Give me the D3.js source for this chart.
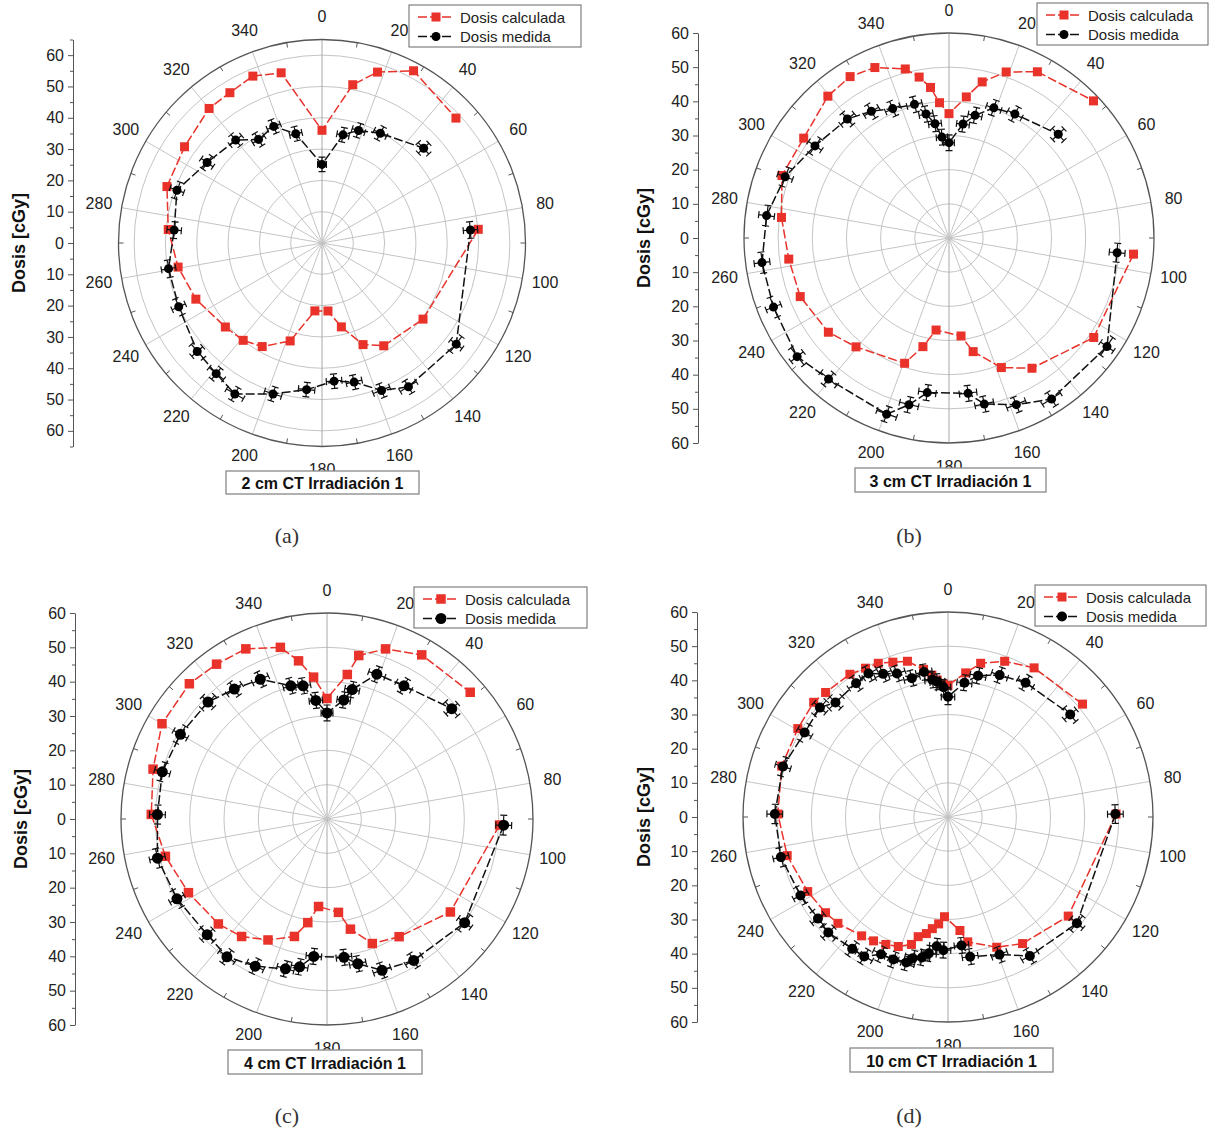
<!DOCTYPE html>
<html>
<head>
<meta charset="utf-8">
<script src="https://cdn.jsdelivr.net/npm/d3@7"></script>
<style>
  body { margin: 0; background: #fff; }
  svg text { font-family: "Liberation Sans", Arial, sans-serif; }
</style>
</head>
<body>
<svg id="chart" width="1214" height="1133"></svg>
<script>
// Angles in degrees (0 at top, clockwise), dose in cGy
const anglesA = [0, 11, 18, 28, 47, 85, 127, 149, 158, 167, 175, 186, 198, 210, 219, 229, 246, 260.5, 275, 290, 305, 320, 328.5, 337.5, 346.5];
const calcA = [36, 51.5, 57.4, 62.3, 58.5, 50.1, 40.4, 38.3, 35, 27.5, 21.8, 21.8, 32.9, 38.2, 40, 40.9, 44.1, 46.6, 49.3, 52.7, 53.6, 56.1, 56.3, 57.7, 55.9];
const measA = [25.1, 35.2, 37.8, 39.7, 44.4, 47.6, 53.7, 53.6, 50.8, 45.6, 44.3, 47.1, 50.7, 55.7, 53.7, 52.8, 50.1, 49.7, 47.4, 49.3, 44.8, 42.9, 38.8, 40.3, 35.9];

const anglesB = [0, 7, 12, 19, 28, 46.5, 95, 124.5, 147.5, 158, 168, 173, 188, 193.5, 199.5, 220.5, 232, 248.5, 262.5, 277, 290.5, 304.5, 319.5, 328.5, 336.5, 345.5, 349.5, 353, 356];
const calcB = [36.4, 41.6, 46.7, 51.4, 55.1, 58.3, 54.2, 51.4, 45.2, 40.9, 34, 28.9, 27.2, 32.7, 38.9, 41.9, 44.8, 46.8, 47.3, 49.4, 52.2, 51.6, 54.6, 55.4, 54.4, 51.1, 47.9, 44.4, 39.7];
const measB = [27.9, 33.6, 36.7, 40.3, 41.1, 44.1, 49.4, 56.1, 55.9, 52.6, 49.7, 45.8, 45.7, 50.2, 54.7, 54.3, 56.4, 55.2, 55.2, 53.8, 51.2, 47.6, 45.8, 43.5, 41.3, 40.4, 36.9, 33.7, 29.6];

const anglesC = [0, 8, 11, 19, 30, 48.5, 92, 127, 148.5, 160, 168, 173, 185.5, 190.5, 195.5, 206, 216, 226, 242, 257, 271.5, 286, 300, 314.5, 324.5, 334.5, 344.8, 349.8, 354.6];
const calcC = [35.1, 42.5, 48.5, 52.4, 55.2, 55.7, 50.3, 45, 40.2, 38.6, 32.8, 27.4, 25.6, 30.7, 35.5, 39.2, 42.3, 44, 45.7, 48.3, 51.2, 52.7, 55.5, 56.2, 55.4, 54.9, 51.8, 46.8, 41.5];
const measC = [30.9, 35, 38.4, 44.6, 44.8, 48.5, 51.5, 50.2, 48.3, 46.9, 43.1, 40.6, 40.2, 43.8, 45.3, 47.7, 49.6, 48.5, 49.5, 50.7, 49.4, 49.9, 49.3, 48.6, 46.5, 45.1, 40.2, 39.4, 34.7];

const anglesD = [0, 7, 12, 20, 30, 50, 89, 129.5, 149.5, 159.5, 171, 174, 182, 185, 188, 190.5, 194, 196, 201, 206, 211, 216, 226, 232, 242, 256.5, 271, 287, 300.5, 310.5, 315.5, 325.5, 331, 335.6, 340.4, 345.4, 350.6, 353.5, 355.5, 358];
const calcD = [38.5, 42.5, 46, 48.5, 50.4, 51.4, 49.2, 45.6, 43, 40.7, 37, 33.4, 29.2, 31.4, 33, 34.7, 36.1, 38.8, 40.6, 41.5, 42.3, 43, 44.8, 45.5, 46.5, 48.4, 49.8, 50.9, 51, 51.7, 51.1, 50.7, 49.8, 49.4, 48.1, 47.1, 43.8, 41.8, 40.2, 39];
const measD = [35.2, 39.6, 42.3, 44.2, 45.4, 46.7, 49, 48.9, 47.2, 43, 41.4, 37.8, 39, 38, 40.3, 41.8, 42.6, 44.3, 44.7, 44.7, 47.6, 47.7, 48.7, 48.3, 48.9, 50.3, 50.7, 50.5, 48.7, 49.3, 47, 47.5, 48, 46, 44.6, 42, 43, 40.4, 39.7, 38];

// measurement uncertainty (dose in cGy, angle in degrees)
const errDose = 2.3;
const errAngle = 3.2;

const titles = ['2 cm CT Irradiación 1', '3 cm CT Irradiación 1', '4 cm CT Irradiación 1', '10 cm CT Irradiación 1'];
const captions = ['(a)', '(b)', '(c)', '(d)'];
const seriesNames = ['Dosis calculada', 'Dosis medida'];
const angleTicks = d3.range(0, 360, 20);
const doseTicks = d3.range(-60, 61, 10);

const RED = '#e8322a';

const panels = [
    {angles: anglesA, calc: calcA, meas: measA, cx: 322, cy: 243, R: 203.5, rMax: 65, axisX: 73, yLabX: 19,
     legend: [409, 5, 172, 42], box: [226, 471, 193, 23], cap: [287, 535], sq: 9, dot: 4.5},
    {angles: anglesB, calc: calcB, meas: measB, cx: 949, cy: 238, R: 205, rMax: 60, axisX: 698, yLabX: 644,
     legend: [1037, 3, 171, 42], box: [855, 468, 191, 24], cap: [909, 535], sq: 9, dot: 4.5},
    {angles: anglesC, calc: calcC, meas: measC, cx: 327, cy: 819, R: 206, rMax: 60, axisX: 75, yLabX: 21,
     legend: [414, 587, 173, 41], box: [228, 1050, 194, 24], cap: [287, 1115], sq: 9.5, dot: 5.5},
    {angles: anglesD, calc: calcD, meas: measD, cx: 948, cy: 817, R: 205, rMax: 60, axisX: 697, yLabX: 644,
     legend: [1035, 585, 171, 41], box: [850, 1048, 203, 24], cap: [909, 1115], sq: 9, dot: 5}
];

const svg = d3.select('#chart');
const rad = a => a * Math.PI / 180;

panels.forEach((p, i) => drawPanel(p, i));

function drawPanel(p, i) {
    const r = d3.scaleLinear().domain([0, p.rMax]).range([0, p.R]);
    const g = svg.append('g').attr('transform', `translate(${p.cx},${p.cy})`);
    const pt = (a, v) => [r(v) * Math.sin(rad(a)), -r(v) * Math.cos(rad(a))];

    // Grid rings
    g.selectAll('.ring')
        .data(d3.range(10, p.rMax, 10).filter(v => v < p.rMax))
        .join('circle')
        .attr('r', d => r(d))
        .attr('fill', 'none')
        .attr('stroke', '#c4c4c4')
        .attr('stroke-width', 1);

    // Spokes
    g.selectAll('.spoke')
        .data(angleTicks)
        .join('line')
        .attr('x2', d => pt(d, p.rMax)[0])
        .attr('y2', d => pt(d, p.rMax)[1])
        .attr('stroke', d => d % 180 === 0 ? '#a8a8a8' : '#c4c4c4')
        .attr('stroke-width', 1);

    // Outer circle
    g.append('circle')
        .attr('r', p.R)
        .attr('fill', 'none')
        .attr('stroke', '#555')
        .attr('stroke-width', 1.3);

    // Minor angular ticks
    g.selectAll('.atick')
        .data(d3.range(10, 360, 20))
        .join('line')
        .attr('x1', d => Math.sin(rad(d)) * p.R)
        .attr('y1', d => -Math.cos(rad(d)) * p.R)
        .attr('x2', d => Math.sin(rad(d)) * (p.R - 5))
        .attr('y2', d => -Math.cos(rad(d)) * (p.R - 5))
        .attr('stroke', '#555');

    // Angular labels
    g.selectAll('.alab')
        .data(angleTicks)
        .join('text')
        .attr('x', d => Math.sin(rad(d)) * (p.R + 23))
        .attr('y', d => -Math.cos(rad(d)) * (p.R + 23))
        .attr('text-anchor', 'middle')
        .attr('dominant-baseline', 'central')
        .attr('font-size', 16)
        .attr('fill', '#222')
        .text(d => d);

    // Line order: starts after the angular gap (no detectors between ~50 and ~85 deg)
    const k = p.angles.findIndex(a => a > 60);
    const order = d3.range(k, p.angles.length).concat(d3.range(0, k));

    const line = d3.lineRadial()
        .angle(j => rad(p.angles[j]));

    // Calculated dose
    g.append('path')
        .attr('d', line.radius(j => r(p.calc[j]))(order))
        .attr('fill', 'none')
        .attr('stroke', RED)
        .attr('stroke-width', 1.5)
        .attr('stroke-dasharray', '9,3');

    g.selectAll('.sq')
        .data(order)
        .join('rect')
        .attr('x', j => pt(p.angles[j], p.calc[j])[0] - p.sq / 2)
        .attr('y', j => pt(p.angles[j], p.calc[j])[1] - p.sq / 2)
        .attr('width', p.sq)
        .attr('height', p.sq)
        .attr('fill', RED);

    // Measured dose
    g.append('path')
        .attr('d', line.radius(j => r(p.meas[j]))(order))
        .attr('fill', 'none')
        .attr('stroke', '#111')
        .attr('stroke-width', 1.5)
        .attr('stroke-dasharray', '9,3');

    // Error bars (radial and angular) with caps
    const eb = g.append('g').attr('stroke', '#111').attr('stroke-width', 1.2).attr('fill', 'none');
    order.forEach(j => {
        const a = p.angles[j], v = p.meas[j];
        const u = [Math.sin(rad(a)), -Math.cos(rad(a))];   // radial unit
        const t = [-u[1], u[0]];                              // tangential unit
        const c = 3.5;
        const p1 = pt(a, v - errDose), p2 = pt(a, v + errDose);
        const q1 = pt(a - errAngle, v), q2 = pt(a + errAngle, v);
        let d = `M${p1}L${p2}`;
        d += `M${p1[0] - t[0] * c},${p1[1] - t[1] * c}L${p1[0] + t[0] * c},${p1[1] + t[1] * c}`;
        d += `M${p2[0] - t[0] * c},${p2[1] - t[1] * c}L${p2[0] + t[0] * c},${p2[1] + t[1] * c}`;
        d += `M${q1}L${q2}`;
        d += `M${q1[0] - u[0] * c},${q1[1] - u[1] * c}L${q1[0] + u[0] * c},${q1[1] + u[1] * c}`;
        d += `M${q2[0] - u[0] * c},${q2[1] - u[1] * c}L${q2[0] + u[0] * c},${q2[1] + u[1] * c}`;
        eb.append('path').attr('d', d);
    });

    g.selectAll('.dot')
        .data(order)
        .join('circle')
        .attr('cx', j => pt(p.angles[j], p.meas[j])[0])
        .attr('cy', j => pt(p.angles[j], p.meas[j])[1])
        .attr('r', p.dot)
        .attr('fill', '#000');

    // Left dose axis
    const y = d3.scaleLinear().domain([-p.rMax, p.rMax]).range([p.cy + p.R, p.cy - p.R]);
    const ax = svg.append('g').attr('transform', `translate(${p.axisX},0)`);
    ax.call(d3.axisLeft(y).tickValues(doseTicks).tickFormat(d => Math.abs(d)).tickSize(5).tickSizeOuter(0).tickPadding(4));
    ax.append('g').call(d3.axisLeft(y)
        .tickValues(d3.range(-p.rMax, p.rMax + 0.1, 5).filter(v => v % 10 !== 0))
        .tickFormat('').tickSize(3).tickSizeOuter(0))
        .select('.domain').remove();
    ax.selectAll('path, line').attr('stroke', '#555');
    ax.selectAll('text')
        .attr('font-size', 16)
        .attr('fill', '#222')
        .style('font-family', '"Liberation Sans", Arial, sans-serif');

    svg.append('text')
        .attr('transform', `translate(${p.yLabX},${p.cy}) rotate(-90)`)
        .attr('text-anchor', 'middle')
        .attr('dominant-baseline', 'central')
        .attr('font-size', 18)
        .attr('font-weight', 'bold')
        .attr('fill', '#111')
        .text('Dosis [cGy]');

    // Legend
    const [lx, ly, lw, lh] = p.legend;
    const lg = svg.append('g').attr('transform', `translate(${lx},${ly})`);
    lg.append('rect').attr('width', lw).attr('height', lh)
        .attr('fill', '#fff').attr('stroke', '#666').attr('stroke-width', 1);
    [0, 1].forEach(s => {
        const yy = 12 + s * 19.5;
        const col = s === 0 ? RED : '#111';
        lg.append('line').attr('x1', 9).attr('x2', 45).attr('y1', yy).attr('y2', yy)
            .attr('stroke', col).attr('stroke-width', 1.5).attr('stroke-dasharray', '9,3');
        if (s === 0) {
            lg.append('rect').attr('x', 27 - p.sq / 2).attr('y', yy - p.sq / 2)
                .attr('width', p.sq).attr('height', p.sq).attr('fill', RED);
        } else {
            lg.append('circle').attr('cx', 27).attr('cy', yy).attr('r', p.dot).attr('fill', '#000');
        }
        lg.append('text').attr('x', 51).attr('y', yy).attr('dominant-baseline', 'central')
            .attr('font-size', 15).attr('fill', '#222').text(seriesNames[s]);
    });

    // Title box
    const [bx, by, bw, bh] = p.box;
    svg.append('rect').attr('x', bx).attr('y', by).attr('width', bw).attr('height', bh)
        .attr('fill', '#fff').attr('stroke', '#888').attr('stroke-width', 1.3);
    svg.append('text').attr('x', bx + bw / 2).attr('y', by + bh / 2 + 1)
        .attr('text-anchor', 'middle').attr('dominant-baseline', 'central')
        .attr('font-size', 16).attr('font-weight', 'bold').attr('fill', '#111')
        .text(titles[i]);

    // Caption
    svg.append('text').attr('x', p.cap[0]).attr('y', p.cap[1])
        .attr('text-anchor', 'middle').attr('dominant-baseline', 'central')
        .attr('font-size', 22).attr('fill', '#333')
        .style('font-family', '"Liberation Serif", "DejaVu Serif", serif')
        .text(captions[i]);
}
</script>
</body>
</html>
